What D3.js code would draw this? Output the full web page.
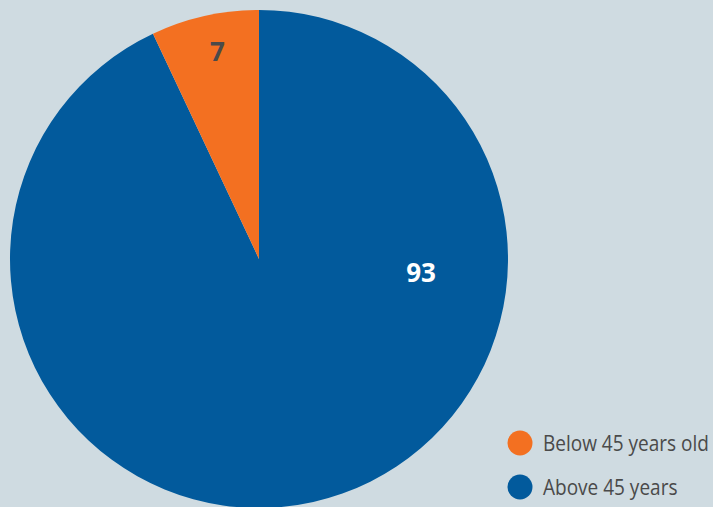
<!DOCTYPE html>
<html>
<head>
<meta charset="utf-8">
<script src="https://cdn.jsdelivr.net/npm/d3@7"></script>
<style>
  html, body { margin: 0; padding: 0; background: #cfdbe1; overflow: hidden; }
  text { font-family: "Open Sans", "Noto Sans", sans-serif; }
</style>
</head>
<body>
<div id="chart"></div>
<script>
  // data
  let categories = ["Above 45 years", "Below 45 years old"];
  let values = [93, 7];
  let legendLabels = ["Below 45 years old", "Above 45 years"];
  let colors = {"Above 45 years": "#025a9c", "Below 45 years old": "#f37021"};

  let width = 713;
  let height = 507;
  let cx = 259, cy = 259, radius = 249;

  let svg = d3.select("#chart")
    .append("svg")
    .attr("width", width)
    .attr("height", height)
    .style("background", "#cfdbe1");

  let data = categories.map((c, i) => ({name: c, value: values[i]}));

  let pie = d3.pie().sort(null).value(d => d.value);
  let arc = d3.arc().innerRadius(0).outerRadius(radius);

  let g = svg.append("g").attr("transform", `translate(${cx},${cy})`);

  g.selectAll("path")
    .data(pie(data))
    .enter()
    .append("path")
    .attr("d", arc)
    .attr("fill", d => colors[d.data.name]);

  // value labels - big slice label sits ~a quarter into the slice, small one mid-slice near rim
  function labelPos(d) {
    let small = d.data.value < 20;
    let a = d.startAngle + (d.endAngle - d.startAngle) * (small ? 0.55 : 0.283);
    let r = radius * (small ? 0.85 : 0.653);
    return [Math.sin(a) * r, -Math.cos(a) * r];
  }

  g.selectAll("text.val")
    .data(pie(data))
    .enter()
    .append("text")
    .attr("class", "val")
    .attr("transform", d => `translate(${labelPos(d)})`)
    .attr("text-anchor", "middle")
    .attr("dy", "0.35em")
    .attr("font-size", 26)
    .attr("font-weight", "bold")
    .attr("fill", d => d.data.value < 20 ? "#4a4a4a" : "#ffffff")
    .text(d => d.data.value);

  // legend
  let legend = svg.append("g").attr("transform", "translate(520,443)");
  let items = legend.selectAll("g")
    .data(legendLabels)
    .enter()
    .append("g")
    .attr("transform", (d, i) => `translate(0,${i * 44})`);

  items.append("circle")
    .attr("r", 12.5)
    .attr("fill", d => colors[d]);

  // condensed look: squeeze the labels horizontally
  items.append("text")
    .attr("transform", "translate(23,0) scale(0.865,1)")
    .attr("dy", "0.35em")
    .attr("font-size", 22)
    .attr("fill", "#4a4a4a")
    .text(d => d);
</script>
</body>
</html>
